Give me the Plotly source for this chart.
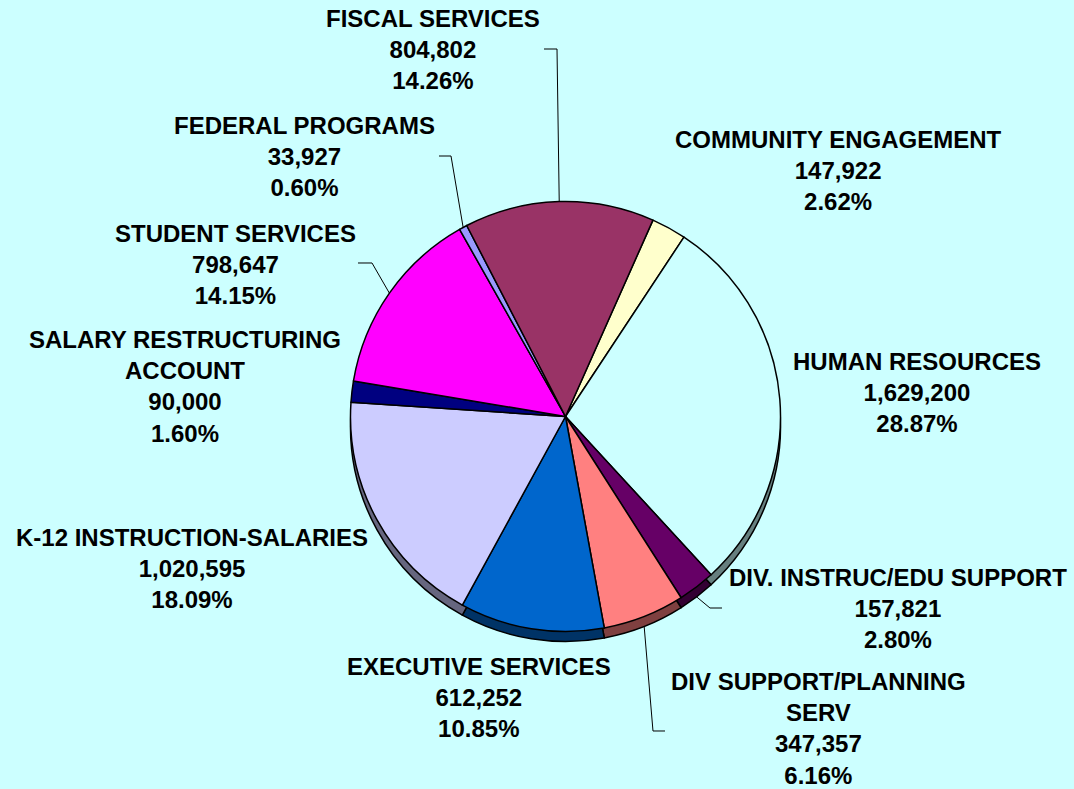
import math
import plotly.graph_objects as go

# ---------------- data ----------------
categories = ["COMMUNITY ENGAGEMENT", "HUMAN RESOURCES", "DIV. INSTRUC/EDU SUPPORT",
              "DIV SUPPORT/PLANNING SERV", "EXECUTIVE SERVICES", "K-12 INSTRUCTION-SALARIES",
              "SALARY RESTRUCTURING ACCOUNT", "STUDENT SERVICES", "FEDERAL PROGRAMS",
              "FISCAL SERVICES"]
values = [147922, 1629200, 157821, 347357, 612252, 1020595, 90000, 798647, 33927, 804802]
display_names = ["COMMUNITY ENGAGEMENT", "HUMAN RESOURCES", "DIV. INSTRUC/EDU SUPPORT",
                 "DIV SUPPORT/PLANNING<br>SERV", "EXECUTIVE SERVICES",
                 "K-12 INSTRUCTION-SALARIES", "SALARY RESTRUCTURING<br>ACCOUNT",
                 "STUDENT SERVICES", "FEDERAL PROGRAMS", "FISCAL SERVICES"]
colors = ["#FFFFCC", "#CCFFFF", "#660066", "#FF8080", "#0066CC", "#CCCCFF",
          "#000080", "#FF00FF", "#9999FF", "#993366"]

# ---------------- layout constants (pixels) ----------------
W, H = 1074, 789
CX, CY, R = 565.5, 416.5, 215
DEPTH = 10
ROTATION = 24
BG = "#CCFFFF"
FONT = "Liberation Sans"
FSIZE = 24

label_pos = {
    "COMMUNITY ENGAGEMENT": (838, 170),
    "HUMAN RESOURCES": (917, 392),
    "DIV. INSTRUC/EDU SUPPORT": (898, 608),
    "DIV SUPPORT/PLANNING SERV": (818, 728),
    "EXECUTIVE SERVICES": (479, 697),
    "K-12 INSTRUCTION-SALARIES": (192, 568),
    "SALARY RESTRUCTURING ACCOUNT": (185, 386),
    "STUDENT SERVICES": (235, 264),
    "FEDERAL PROGRAMS": (304, 157),
    "FISCAL SERVICES": (433, 50),
}
leaders = {
    "FISCAL SERVICES": [(557, 49), (544, 49)],
    "FEDERAL PROGRAMS": [(451, 156), (439, 156)],
    "STUDENT SERVICES": [(372, 263), (358, 263)],
    "DIV. INSTRUC/EDU SUPPORT": [(710, 608), (722, 608)],
    "DIV SUPPORT/PLANNING SERV": [(653, 731), (665, 731)],
}


def px(x):
    return x / W


def py(y):
    return 1 - y / H


def darker(hexcol, f=0.5):
    r, g, b = (int(hexcol[i:i + 2], 16) for i in (1, 3, 5))
    return "rgb(%d,%d,%d)" % (r * f, g * f, b * f)


dom_x = [px(CX - R), px(CX + R)]
dom_y = [py(CY + R), py(CY - R)]
dom_y_back = [py(CY + R + DEPTH), py(CY - R + DEPTH)]

fig = go.Figure()
# depth (side) of the pie
fig.add_trace(go.Pie(
    labels=categories, values=values, sort=False, direction="clockwise",
    rotation=ROTATION, textinfo="none", hoverinfo="skip", showlegend=False,
    marker=dict(colors=[darker(c) for c in colors], line=dict(color="black", width=1.5)),
    domain=dict(x=dom_x, y=dom_y_back),
))
# top face
fig.add_trace(go.Pie(
    labels=categories, values=values, sort=False, direction="clockwise",
    rotation=ROTATION, textinfo="none", showlegend=False,
    marker=dict(colors=colors, line=dict(color="black", width=1.5)),
    domain=dict(x=dom_x, y=dom_y),
))

total = sum(values)
annotations = []
shapes = []
cum = 0
for name, disp, v in zip(categories, display_names, values):
    pct = 100 * v / total
    text = "%s<br>%s<br>%.2f%%" % (disp, format(v, ","), pct)
    x, y = label_pos[name]
    annotations.append(dict(
        x=px(x), y=py(y), xref="paper", yref="paper", text=text, showarrow=False,
        xanchor="center", yanchor="middle", align="center",
        font=dict(family=FONT, size=FSIZE, color="black", weight="bold"),
    ))
    mid = math.radians(ROTATION + 360 * (cum + v / 2) / total)
    cum += v
    if name in leaders:
        sx = CX + R * math.sin(mid)
        sy = CY - R * math.cos(mid)
        if math.cos(mid) < 0:
            sy += DEPTH
        pts = [(sx, sy)] + leaders[name]
        path = "M " + " L ".join("%f,%f" % (px(a), py(b)) for a, b in pts)
        shapes.append(dict(type="path", path=path, xref="paper", yref="paper",
                           line=dict(color="black", width=1)))

fig.update_layout(
    width=W, height=H, margin=dict(l=0, r=0, t=0, b=0),
    paper_bgcolor=BG, plot_bgcolor=BG,
    annotations=annotations, shapes=shapes,
)

fig.write_html("out.html", config={"displayModeBar": False},
               post_script="document.body.style.margin='0';document.body.style.overflow='hidden';")
